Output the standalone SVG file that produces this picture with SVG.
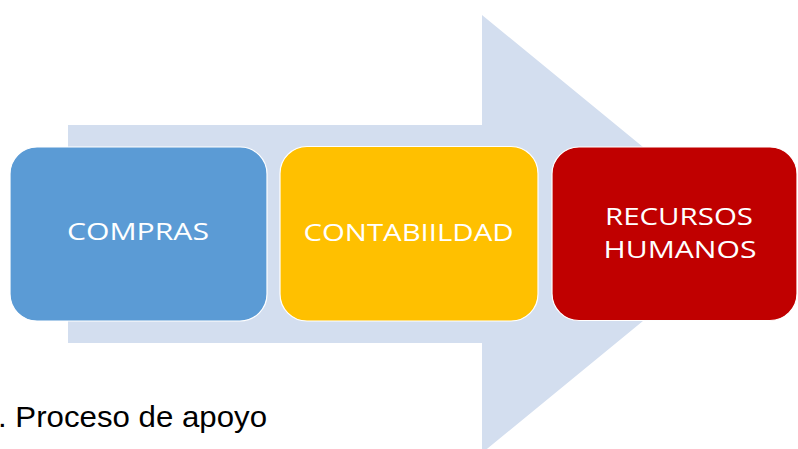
<svg xmlns="http://www.w3.org/2000/svg" width="798" height="449" viewBox="0 0 798 449">
<style>
.box{stroke:#ffffff;stroke-width:1.2}
.lbl{font-family:"Open Sans","Liberation Sans",sans-serif;font-size:24px;fill:#ffffff;text-anchor:middle}
.cap{font-family:"Liberation Sans",Arial,sans-serif;font-size:29px;fill:#000000}
</style>
<rect width="798" height="449" fill="#ffffff"/>
<g id="connectors">
<polygon id="arrow" points="68,125 482,125 482,15 749,234 482,453 482,343 68,343" fill="#D3DEEF"/>
</g>
<g id="compras">
<rect class="box" x="10" y="147" width="257" height="174" rx="27" ry="27" fill="#5B9BD5"/>
<text class="lbl" x="138" y="240" textLength="142" lengthAdjust="spacingAndGlyphs">COMPRAS</text>
</g>
<g id="contabilidad">
<rect class="box" x="280" y="146.5" width="258" height="174.5" rx="27" ry="27" fill="#FFC000"/>
<text class="lbl" x="408.5" y="241" textLength="210" lengthAdjust="spacingAndGlyphs">CONTABIILDAD</text>
</g>
<g id="recursos">
<rect class="box" x="552" y="147" width="245" height="173.5" rx="27" ry="27" fill="#C00000"/>
<text class="lbl" x="679" y="225" textLength="148" lengthAdjust="spacingAndGlyphs">RECURSOS</text>
<text class="lbl" x="680" y="258" textLength="153" lengthAdjust="spacingAndGlyphs">HUMANOS</text>
</g>
<text class="cap" x="-2" y="427" textLength="269" lengthAdjust="spacingAndGlyphs">. Proceso de apoyo</text>
</svg>
